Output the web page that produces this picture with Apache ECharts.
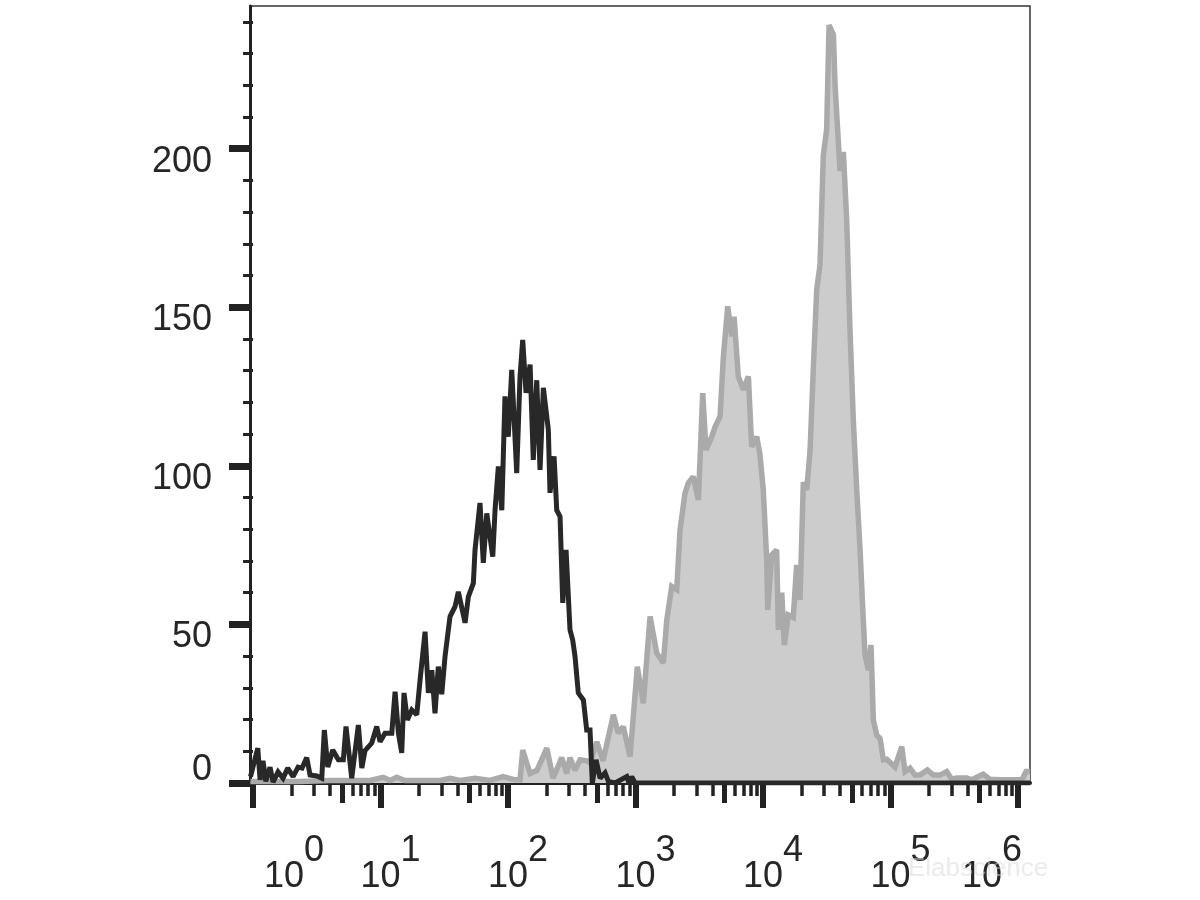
<!DOCTYPE html>
<html>
<head>
<meta charset="utf-8">
<script src="https://cdn.jsdelivr.net/npm/echarts@6/dist/echarts.min.js"></script>
<style>html,body{margin:0;padding:0;background:#fff}#chart{width:1200px;height:900px}</style>
</head>
<body>
<div id="chart"></div>
<script>
// ---- data (x positions in decades, i.e. log10 of fluorescence intensity) ----
const decades = [0, 1, 2, 3, 4, 5, 6];
const decadeLabels = ['0', '1', '2', '3', '4', '5', '6'];
const yMajorTicks = [0, 50, 100, 150, 200];
const yMinorTicks = [10, 20, 30, 40, 60, 70, 80, 90, 110, 120, 130, 140, 160, 170, 180, 190, 210, 220, 230, 240];
const minorMultipliers = [2, 3, 4, 6, 7, 8, 9];
const mediumMultipliers = [5];

const blackLog10 = [-0.02,0.037,0.055,0.078,0.100,0.133,0.157,0.196,0.235,0.272,
  0.314,0.353,0.384,0.421,0.447,0.500,0.539,0.559,0.586,0.625,
  0.669,0.708,0.729,0.774,0.826,0.853,0.878,0.931,0.970,0.996,
  1.035,1.088,1.114,1.140,1.166,1.184,1.210,1.245,1.284,1.310,
  1.349,1.375,1.402,1.427,1.453,1.480,1.506,1.545,1.584,1.610,
  1.663,1.689,1.728,1.741,1.780,1.806,1.833,1.880,1.898,1.924,
  1.951,1.976,2.002,2.029,2.068,2.094,2.115,2.141,2.173,2.198,
  2.225,2.251,2.277,2.316,2.329,2.361,2.382,2.408,2.429,2.455,
  2.486,2.507,2.525,2.551,2.591,2.617,2.643,2.661,2.690,2.722,
  2.761,2.787,2.839,2.931,2.949,2.970,2.996,3.5,4.0,4.5,
  5.0,5.5,6.094];
const blackCount = [2,11,1,7,0.5,5,0.3,3.5,1.5,4.7,
  2,5,4.7,8,2.5,2.2,1.5,16.7,5,10.4,
  7.3,7.3,17.8,1.5,18.3,4.7,10.2,12.6,17.8,13,
  15.7,15.7,28.8,15.7,9.5,28.4,19.9,23,21.5,32.5,
  47.7,28.4,35.6,22,36.7,28,40,52.5,55.6,60.3,
  50.5,58.8,63,73.5,88.3,69.4,85,71.4,86,99.8,
  86,121.9,109.2,130.3,97.7,128.2,139.7,123,131.9,101.9,
  127,98.7,124.6,111.4,91.5,103,86,84,56.8,73.5,
  48.3,45.1,40,28.4,26.2,16.7,16.7,0,7.3,1.5,
  3.2,0.5,0,2,0,2,0,0,0,0,
  0,0,0];

const grayLog10 = [-0.02,0.369,0.604,0.918,1.020,1.075,1.127,1.192,1.467,1.545,
  1.624,1.741,1.859,1.961,2.055,2.094,2.115,2.173,2.227,2.304,
  2.353,2.421,2.460,2.486,2.525,2.565,2.617,2.643,2.696,2.745,
  2.826,2.865,2.904,2.957,3.014,3.061,3.114,3.166,3.218,3.245,
  3.284,3.323,3.349,3.388,3.414,3.453,3.493,3.527,3.553,3.598,
  3.624,3.663,3.689,3.723,3.755,3.773,3.806,3.846,3.885,3.911,
  3.951,3.976,4.002,4.029,4.037,4.068,4.107,4.120,4.147,4.167,
  4.198,4.237,4.264,4.290,4.316,4.343,4.369,4.394,4.421,4.447,
  4.473,4.499,4.518,4.552,4.565,4.604,4.630,4.656,4.682,4.708,
  4.735,4.761,4.779,4.800,4.826,4.847,4.865,4.892,4.918,4.944,
  4.971,5.009,5.035,5.088,5.114,5.153,5.192,5.231,5.289,5.336,
  5.388,5.441,5.480,5.520,5.598,5.637,5.727,5.780,5.859,5.976,
  6.031,6.063,6.094];
const grayCount = [0.5,0.5,0.8,0.8,1.8,0.8,1.8,0.8,0.8,1.5,
  0.8,1.5,0.8,2,1,1,10.4,3,4,11,
  1.5,8,3,8,4,7.3,7,6.3,13,7,
  21.5,15.7,17.8,8.3,36.7,25.1,52.5,41,37.8,51.4,
  62,61,79.8,91.4,94.6,96.6,89.3,122.9,105,109.2,
  112.3,115.6,134.4,150.3,140.8,147,128.2,124,128.2,106,
  109.2,103.5,92.4,70.3,54.6,71.9,73.5,48.3,60,43.5,
  53,52.2,68.8,57.7,94.8,92.4,105,130.3,155.5,163.4,
  198,206,239,236,220,193,199,177.6,143,114.5,
  92.4,73.5,57.7,40.4,35.6,43.5,19.9,15.1,14,7.3,
  7.5,6,5,11.5,3.6,4.7,2.5,2.5,4.1,2.5,
  2.5,3.6,1.2,1.6,1.6,1,2.8,1.2,1,1,
  1,3.6,3.6];

const X_MIN = -0.024, X_MAX = 6.094;
const Y_MIN = 0, Y_MAX = 245;

// tick positions for log decades (minor ticks at k*10^n)
function subTicks(mults) {
  const out = [];
  decades.forEach(d => mults.forEach(m => {
    const v = d + Math.log10(m);
    if (v >= X_MIN && v <= X_MAX) out.push(v);
  }));
  return out;
}
const xMinorTicks = subTicks(minorMultipliers);
const xMediumTicks = subTicks(mediumMultipliers);

const FONT = 'Liberation Sans, Arial, Helvetica, sans-serif';
const TXT = '#262626';
const AX = '#222222';

const chart = echarts.init(document.getElementById('chart'), null, {renderer: 'canvas'});

function xAxisBase(extra) {
  return Object.assign({
    type: 'value', min: X_MIN, max: X_MAX, position: 'bottom',
    gridIndex: 0, splitLine: {show: false},
    axisLine: {show: false}, axisLabel: {show: false}
  }, extra);
}
function yAxisBase(extra) {
  return Object.assign({
    type: 'value', min: Y_MIN, max: Y_MAX, position: 'left',
    gridIndex: 0, splitLine: {show: false},
    axisLine: {show: false}, axisLabel: {show: false}
  }, extra);
}

const option = {
  animation: false,
  backgroundColor: '#ffffff',
  grid: {left: 250, right: 170, top: 6, bottom: 117, show: true, borderColor: '#333333', borderWidth: 1.5, backgroundColor: 'transparent'},
  xAxis: [
    xAxisBase({
      axisLine: {show: true, onZero: false, lineStyle: {color: AX, width: 4}},
      axisTick: {show: true, customValues: decades, length: 25, lineStyle: {color: AX, width: 6}},
      axisLabel: {
        show: true, customValues: decades, margin: 76,
        formatter: function (v) {
          const i = decades.indexOf(Math.round(v));
          const e = decadeLabels[i];
          if (i === 0) return '{b0|10}{e|' + e + '}';
          if (i === decades.length - 1) return '{bn|10}{e6|' + e + '}';
          return '{b|10}{e|' + e + '}';
        },
        rich: {
          b:  {fontSize: 36, lineHeight: 36, fontFamily: FONT, color: TXT, padding: [0, 0, 0, 20], verticalAlign: 'bottom'},
          b0: {fontSize: 36, lineHeight: 36, fontFamily: FONT, color: TXT, padding: [0, 0, 0, 82], verticalAlign: 'bottom'},
          bn: {fontSize: 36, lineHeight: 36, fontFamily: FONT, color: TXT, padding: [0, 0, 0, 0], verticalAlign: 'bottom'},
          e:  {fontSize: 36, lineHeight: 36, fontFamily: FONT, color: TXT, padding: [0, 0, 26, 0], verticalAlign: 'bottom'},
          e6: {fontSize: 36, lineHeight: 36, fontFamily: FONT, color: TXT, padding: [0, 52, 26, 0], verticalAlign: 'bottom'}
        }
      }
    }),
    xAxisBase({axisTick: {show: true, customValues: xMediumTicks, length: 20, lineStyle: {color: AX, width: 5}}}),
    xAxisBase({axisTick: {show: true, customValues: xMinorTicks, length: 13, lineStyle: {color: AX, width: 3.5}}})
  ],
  yAxis: [
    yAxisBase({
      axisLine: {show: true, onZero: false, lineStyle: {color: AX, width: 3}},
      axisTick: {show: true, customValues: yMajorTicks, length: 21, lineStyle: {color: AX, width: 7}},
      axisLabel: {
        show: true, customValues: yMajorTicks, margin: 38,
        formatter: function (v) { return v === 0 ? '{z|0}' : '{n|' + v + '}'; },
        rich: {
          n: {fontSize: 36, lineHeight: 40, fontFamily: FONT, color: TXT, padding: [26, 0, 0, 0]},
          z: {fontSize: 36, lineHeight: 40, fontFamily: FONT, color: TXT, padding: [0, 0, 26, 0]}
        }
      }
    }),
    yAxisBase({axisTick: {show: true, customValues: yMinorTicks, length: 10, lineStyle: {color: AX, width: 3}}})
  ],
  graphic: [{
    type: 'text', left: 908, top: 856, z: 100, silent: true,
    style: {text: 'Elabscience', font: '26px ' + FONT, fill: 'rgba(215,215,215,0.5)'}
  }],
  series: [
    {
      name: 'stained', type: 'line', xAxisIndex: 0, yAxisIndex: 0,
      data: grayLog10.map((x, i) => [x, grayCount[i]]),
      symbol: 'none', z: 2,
      lineStyle: {color: '#aaaaaa', width: 5.5, join: 'miter', miterLimit: 2},
      areaStyle: {color: '#cccccc', opacity: 1}
    },
    {
      name: 'control', type: 'line', xAxisIndex: 0, yAxisIndex: 0,
      data: blackLog10.map((x, i) => [x, blackCount[i]]),
      symbol: 'none', z: 3,
      lineStyle: {color: '#282828', width: 5, join: 'miter', miterLimit: 2}
    }
  ]
};
chart.setOption(option);
</script>
</body>
</html>
